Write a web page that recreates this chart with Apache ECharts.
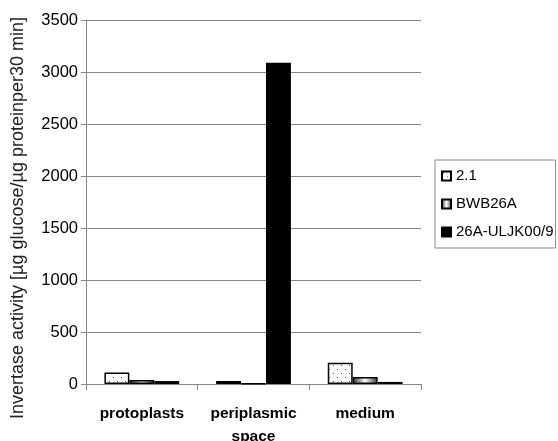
<!DOCTYPE html>
<html><head><meta charset="utf-8">
<script src="https://cdn.jsdelivr.net/npm/echarts@6/dist/echarts.min.js"></script>
<style>html,body{margin:0;padding:0;background:#fff}#c{width:558px;height:441px}</style>
</head><body><div id="c"></div>
<script>
const categories = ['protoplasts', 'periplasmic\nspace', 'medium'];
const seriesNames = ['2.1', 'BWB26A', '26A-ULJK00/9'];
const s21 = [110, 30, 205];
const sBWB = [38, 5, 68];
const s26A = [28, 3090, 20];
const yTicks = [0, 500, 1000, 1500, 2000, 2500, 3000, 3500];
const yName = 'Invertase activity [µg glucose/µg proteinper30 min]';

const pc = document.createElement('canvas');
pc.width = 8; pc.height = 8;
const g = pc.getContext('2d');
g.fillStyle = '#fff'; g.fillRect(0, 0, 8, 8);
g.fillStyle = '#555'; g.fillRect(1, 1, 1, 1); g.fillRect(5, 5, 1, 1);
const dotted = { image: pc, repeat: 'repeat' };
const grad = new echarts.graphic.LinearGradient(0, 0, 1, 0, [
  { offset: 0, color: '#333' }, { offset: 0.5, color: '#fff' }, { offset: 1, color: '#333' }
]);
const fills = [dotted, grad, '#000'];
const datas = [s21, sBWB, s26A];

const chart = echarts.init(document.getElementById('c'), null, { renderer: 'canvas' });
chart.setOption({
  animation: false,
  textStyle: { fontFamily: 'Liberation Sans' },
  grid: { left: 86, right: 137, top: 20, bottom: 57, containLabel: false, outerBoundsMode: 'none' },
  legend: {
    orient: 'vertical', left: 435, top: 160,
    itemWidth: 9, itemHeight: 9, itemGap: 12,
    borderColor: '#888', borderWidth: 1, padding: [8, 2, 8, 6],
    textStyle: { fontSize: 15, color: '#000', fontFamily: 'Liberation Sans', lineHeight: 16 },
    data: seriesNames.map(n => ({ name: n, icon: 'rect' }))
  },
  graphic: [{
    type: 'text', x: 18, y: 218, rotation: Math.PI / 2,
    style: { text: yName, fontSize: 18, fontFamily: 'Liberation Sans', fill: '#222', align: 'center', verticalAlign: 'middle' }
  }],
  xAxis: {
    type: 'category', data: categories,
    axisLine: { lineStyle: { color: '#888', width: 1 } },
    axisTick: { show: true, length: 6, lineStyle: { color: '#888' } },
    axisLabel: { interval: 0, hideOverlap: false, fontSize: 15.5, fontWeight: 'bold', color: '#000', margin: 18, lineHeight: 23 }
  },
  yAxis: {
    type: 'value', min: 0, max: 3500, interval: 500,
    axisLine: { show: true, lineStyle: { color: '#888' } },
    axisTick: { show: true, length: 5, lineStyle: { color: '#888' } },
    axisLabel: { fontSize: 16.5, color: '#000', margin: 8, formatter: v => yTicks.includes(v) ? String(v) : '' },
    splitLine: { lineStyle: { color: '#888', width: 1 } }
  },
  series: seriesNames.map((n, i) => ({
    name: n, type: 'bar', data: datas[i],
    barGap: '0%', barCategoryGap: '33%',
    itemStyle: { color: fills[i], borderColor: '#000', borderWidth: 1.5 }
  }))
});
</script></body></html>
